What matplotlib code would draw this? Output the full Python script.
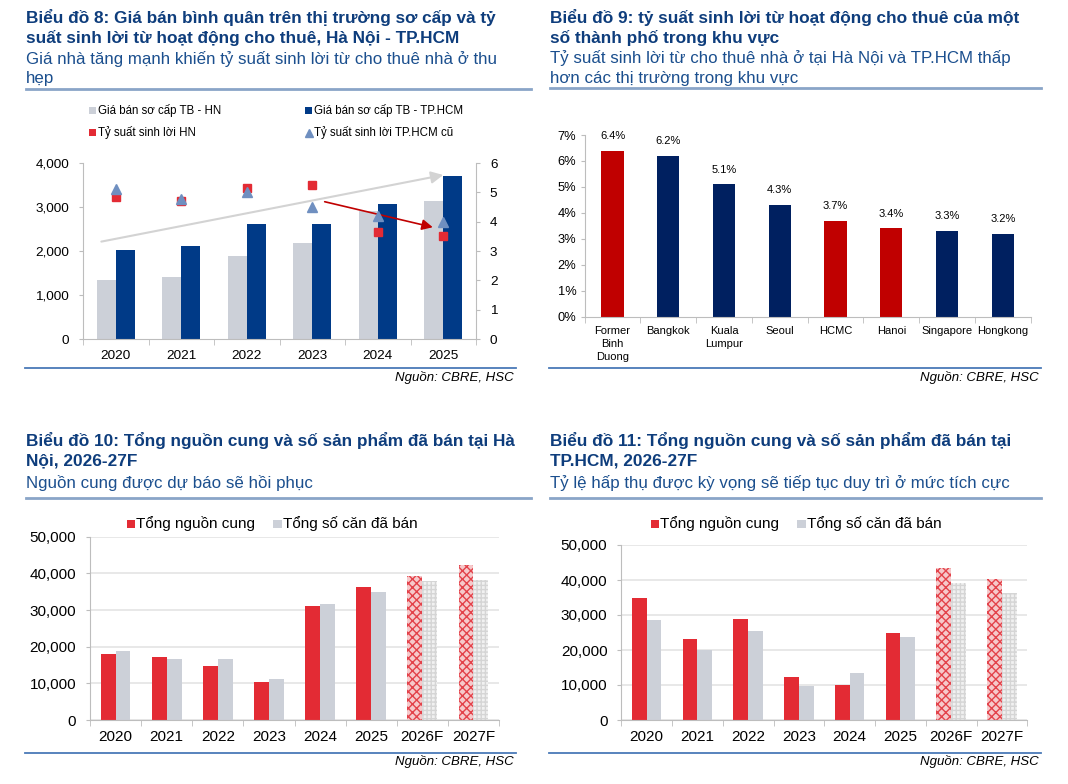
import matplotlib
matplotlib.use('agg')
import matplotlib.pyplot as plt
from matplotlib.lines import Line2D
from matplotlib.patches import Rectangle
from matplotlib.ticker import StrMethodFormatter
import numpy as np

plt.rcParams['font.family'] = ['Liberation Sans', 'DejaVu Sans']

# ---- data: chart 8 ----
years8 = ['2020', '2021', '2022', '2023', '2024', '2025']
price_hn = [1340, 1410, 1890, 2180, 2900, 3140]
price_hcm = [2020, 2110, 2610, 2610, 3070, 3700]
yield_hn = [4.83, 4.70, 5.16, 5.24, 3.64, 3.51]
yield_hcm_old = [5.10, 4.78, 5.02, 4.49, 4.19, 4.00]

# ---- data: chart 9 ----
cities9 = ['Former\nBinh\nDuong', 'Bangkok', 'Kuala\nLumpur', 'Seoul', 'HCMC', 'Hanoi', 'Singapore', 'Hongkong']
yield9 = [6.4, 6.2, 5.1, 4.3, 3.7, 3.4, 3.3, 3.2]
vietnam9 = ['Former\nBinh\nDuong', 'HCMC', 'Hanoi']

# ---- data: chart 10 / 11 ----
years10 = ['2020', '2021', '2022', '2023', '2024', '2025', '2026F', '2027F']
supply_hn = [18000, 17200, 14700, 10400, 31100, 36300, 39200, 42300]
sold_hn = [18800, 16600, 16600, 11200, 31600, 34900, 37900, 38200]
supply_hcm = [34900, 23100, 29000, 12300, 10000, 24900, 43400, 40300]
sold_hcm = [28600, 20000, 25400, 9700, 13400, 23700, 39100, 36300]

W, H = 1068, 784
NAVY_T = '#0e3d7c'
SUB_C = '#1b4f8e'
RULE_T = '#8aa5c8'
RULE_B = '#4a7ab8'
SPINE = '#bdbdbd'
GRAY = '#ccd0d8'
BLUE = '#003a87'
RED = '#e32b34'
TRI = '#6f8fc0'
DRED = '#c00000'
DNAVY = '#002060'

fig = plt.figure(figsize=(W / 100, H / 100), dpi=100)
fig.patch.set_facecolor('white')


def fx(x):
    return x / W


def fy(y):
    return 1 - y / H


def add_ax(l, t, r, b):
    return fig.add_axes([l / W, 1 - b / H, (r - l) / W, (b - t) / H])


def hline(x0, x1, y, color, lw=1.5):
    fig.add_artist(Line2D([fx(x0), fx(x1)], [fy(y), fy(y)], transform=fig.transFigure, color=color, lw=lw))


def header(x, ys, bold_lines, sub_lines, rule_x1, rule_y):
    for i, t in enumerate(bold_lines):
        fig.text(fx(x), fy(ys[i]), t, fontsize=12.4, fontweight='bold', color=NAVY_T, va='center', ha='left')
    for j, t in enumerate(sub_lines):
        fig.text(fx(x), fy(ys[len(bold_lines) + j]), t, fontsize=12.2, color=SUB_C, va='center', ha='left')
    hline(x, rule_x1, rule_y, RULE_T, 2)


def source(x_right, y, x0):
    hline(x0, x_right + 2, y - 9, RULE_B, 1.3)
    fig.text(fx(x_right), fy(y), 'Nguồn: CBRE, HSC', fontsize=9.5, style='italic', ha='right', va='center')


def legend_sq(x, y, size, color, label, fs, marker='s'):
    if marker == 's':
        fig.add_artist(Rectangle((fx(x), fy(y + size / 2)), size / W, size / H, transform=fig.transFigure,
                                 facecolor=color, edgecolor='none'))
    else:
        fig.add_artist(Line2D([fx(x + size / 2)], [fy(y)], transform=fig.transFigure, marker='^',
                              color=color, ms=size * 0.8, ls='none'))
    fig.text(fx(x + size + 1.5), fy(y), label, fontsize=fs, va='center', ha='left')


def style_axes(ax, n, ylab_size, ypad, xpad, xlab_size):
    for s in ['top', 'right']:
        ax.spines[s].set_visible(False)
    for s in ['left', 'bottom']:
        ax.spines[s].set_color(SPINE)
    ax.set_xlim(-0.5, n - 0.5)
    ax.set_xticks(np.arange(n))
    ax.set_xticks(np.arange(n + 1) - 0.5, minor=True)
    ax.tick_params(axis='x', which='major', length=0, labelsize=xlab_size, pad=xpad)
    ax.tick_params(axis='x', which='minor', length=4, color=SPINE, direction='out')
    ax.tick_params(axis='y', length=3, color=SPINE, labelsize=ylab_size, pad=ypad)


# ================= chart 8 =================
header(26, [17.5, 38, 59, 79],
       ['Biểu đồ 8: Giá bán bình quân trên thị trường sơ cấp và tỷ',
        'suất sinh lời từ hoạt động cho thuê, Hà Nội - TP.HCM'],
       ['Giá nhà tăng mạnh khiến tỷ suất sinh lời từ cho thuê nhà ở thu', 'hẹp'], 531, 88.5)

legend_sq(89, 110.7, 7, GRAY, 'Giá bán sơ cấp TB - HN', 8.3)
legend_sq(305, 110.7, 7, BLUE, 'Giá bán sơ cấp TB - TP.HCM', 8.3)
legend_sq(89, 132.7, 7, RED, 'Tỷ suất sinh lời HN', 8.3)
legend_sq(305, 132.7, 8, TRI, 'Tỷ suất sinh lời TP.HCM cũ', 8.3, marker='^')

ax1 = add_ax(83, 163, 476, 339)
x8 = np.arange(len(years8))
ax1.bar(x8 - 0.145, price_hn, 0.29, color=GRAY, zorder=2)
ax1.bar(x8 + 0.145, price_hcm, 0.29, color=BLUE, zorder=2)
ax1.set_ylim(0, 4000)
ax1.set_yticks(np.arange(0, 4001, 1000))
ax1.yaxis.set_major_formatter(StrMethodFormatter('{x:,.0f}'))
style_axes(ax1, len(years8), 9.7, 7, 8, 9.7)
ax1.set_xticklabels(years8)

ax1b = ax1.twinx()
ax1b.set_ylim(0, 6)
ax1b.set_yticks(range(7))
for s in ['top', 'left', 'bottom']:
    ax1b.spines[s].set_visible(False)
ax1b.spines['right'].set_color(SPINE)
ax1b.tick_params(axis='y', length=3, color=SPINE, labelsize=9.7, pad=7)
ax1b.plot(x8, yield_hn, 's', color=RED, ms=6, ls='none', zorder=3)
ax1b.plot(x8, yield_hcm_old, '^', color=TRI, ms=6.5, ls='none', zorder=4)
ax1b.annotate('', xy=(5.0, 5.59), xytext=(-0.22, 3.32),
              arrowprops=dict(arrowstyle='-|>', color='#d3d3d3', lw=1.5, mutation_scale=18, shrinkA=0, shrinkB=0))
ax1b.annotate('', xy=(4.84, 3.81), xytext=(3.19, 4.68),
              arrowprops=dict(arrowstyle='-|>', color=DRED, lw=1.2, mutation_scale=16, shrinkA=0, shrinkB=0))

source(514, 377, 25)

# ================= chart 9 =================
header(550, [17.5, 38, 58, 78],
       ['Biểu đồ 9: tỷ suất sinh lời từ hoạt động cho thuê của một',
        'số thành phố trong khu vực'],
       ['Tỷ suất sinh lời từ cho thuê nhà ở tại Hà Nội và TP.HCM thấp',
        'hơn các thị trường trong khu vực'], 1041, 88)

ax2 = add_ax(584.7, 135, 1030.7, 316.7)
x9 = np.arange(len(cities9))
col9 = [DRED if c in vietnam9 else DNAVY for c in cities9]
bars9 = ax2.bar(x9, yield9, 0.4, color=col9, zorder=2)
for b, v in zip(bars9, yield9):
    ax2.annotate(f'{v:.1f}%', (b.get_x() + b.get_width() / 2, v), xytext=(0, 7), textcoords='offset points',
                 ha='center', va='bottom', fontsize=8)
ax2.set_ylim(0, 7)
ax2.set_yticks(range(8))
ax2.yaxis.set_major_formatter(StrMethodFormatter('{x:.0f}%'))
style_axes(ax2, len(cities9), 9.3, 3, 6.5, 8)
ax2.set_xticklabels(cities9, linespacing=1.42)

source(1039, 377, 549)

# ================= chart 10 / 11 =================
def supply_chart(ax, supply, sold, years):
    n = len(years)
    xs = np.arange(n)
    for i, yr in enumerate(years):
        if yr.endswith('F'):
            ax.bar(xs[i] - 0.145, supply[i], 0.29, facecolor='#f6c9cb', edgecolor='#e3424a', hatch='xxxx',
                   lw=0, zorder=2)
            ax.bar(xs[i] + 0.145, sold[i], 0.29, facecolor='#f1f1f1', edgecolor='#d5d5d5', hatch='++++',
                   lw=0, zorder=2)
        else:
            ax.bar(xs[i] - 0.145, supply[i], 0.29, color=RED, zorder=2)
            ax.bar(xs[i] + 0.145, sold[i], 0.29, color=GRAY, zorder=2)
    ax.set_ylim(0, 50000)
    ax.set_yticks(np.arange(0, 50001, 10000))
    ax.yaxis.set_major_formatter(StrMethodFormatter('{x:,.0f}'))
    ax.yaxis.grid(True, color='#e6e6e6', lw=1.3)
    ax.set_axisbelow(True)
    style_axes(ax, n, 11, 7, 7, 11)
    ax.set_xticklabels(years)


header(26, [440.7, 460.7, 483.3],
       ['Biểu đồ 10: Tổng nguồn cung và số sản phẩm đã bán tại Hà', 'Nội, 2026-27F'],
       ['Nguồn cung được dự báo sẽ hồi phục'], 531, 497.5)
legend_sq(126.7, 524, 8.3, RED, 'Tổng nguồn cung', 11)
legend_sq(273.3, 524, 8.3, GRAY, 'Tổng số căn đã bán', 11)
ax3 = add_ax(90, 536.7, 499, 720)
supply_chart(ax3, supply_hn, sold_hn, years10)
source(514, 762, 25)

header(550, [440.7, 460.7, 483.3],
       ['Biểu đồ 11: Tổng nguồn cung và số sản phẩm đã bán tại', 'TP.HCM, 2026-27F'],
       ['Tỷ lệ hấp thụ được kỳ vọng sẽ tiếp tục duy trì ở mức tích cực'], 1041, 497.5)
legend_sq(650.7, 524, 8.3, RED, 'Tổng nguồn cung', 11)
legend_sq(797.3, 524, 8.3, GRAY, 'Tổng số căn đã bán', 11)
ax4 = add_ax(621.3, 545, 1027.3, 720)
supply_chart(ax4, supply_hcm, sold_hcm, years10)
source(1039, 762, 549)

fig.savefig('out.png', dpi=100, facecolor='white')
